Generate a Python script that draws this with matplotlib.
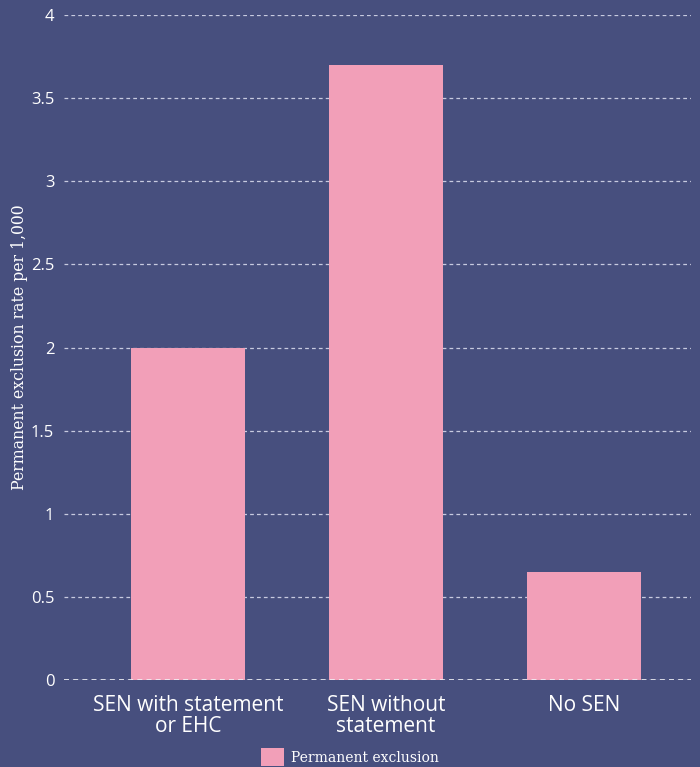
import matplotlib.pyplot as plt
from matplotlib.patches import Patch

categories = ["SEN with statement\nor EHC", "SEN without\nstatement", "No SEN"]
exclusion_rate = [2.0, 3.7, 0.65]
y_ticks = [0, 0.5, 1, 1.5, 2, 2.5, 3, 3.5, 4]
y_tick_labels = ["0", "0.5", "1", "1.5", "2", "2.5", "3", "3.5", "4"]

bg = "#474f7e"
pink = "#f29fb8"

fig = plt.figure(figsize=(7, 7.67), dpi=100, facecolor=bg)
ax = fig.add_axes([64 / 700, 87 / 767, 627 / 700, 665 / 767])
ax.set_facecolor(bg)

x = range(len(categories))
ax.bar(x, exclusion_rate, width=0.576, color=pink, zorder=2)

ax.set_xlim(-0.626, 2.54)
ax.set_ylim(0, 4)
ax.set_yticks(y_ticks)
ax.set_yticklabels(y_tick_labels)
ax.set_xticks(list(x))
ax.set_xticklabels(categories, fontsize=15, family="Open Sans", linespacing=0.98)

ax.tick_params(axis="both", length=0, colors="white")
ax.tick_params(axis="y", labelsize=12, pad=7)
ax.tick_params(axis="x", pad=11)
for lbl in ax.get_yticklabels():
    lbl.set_family("Open Sans")

ax.grid(axis="y", color="#c8cbe0", linestyle=(0, (3, 2.5)), linewidth=0.9, zorder=0)
ax.axhline(0, color="#f0f1f6", linestyle=(0, (3, 2.5)), linewidth=1.2, zorder=3)
for s in ax.spines.values():
    s.set_visible(False)

ax.set_ylabel("Permanent exclusion rate per 1,000", color="white",
              fontsize=11.3, family="DejaVu Serif")
ax.yaxis.set_label_coords(-0.057, 0.5)

# legend sits at the very bottom; its swatch runs off the lower edge
leg = fig.legend(handles=[Patch(facecolor=pink, label="Permanent exclusion")],
                 loc="center", bbox_to_anchor=(0.5, 0.013), frameon=False,
                 borderpad=0, handlelength=1.65, handleheight=1.6, handletextpad=0.45,
                 prop={"family": "DejaVu Serif", "size": 10})
for t in leg.get_texts():
    t.set_color("white")

fig.savefig("out.png", dpi=100, facecolor=bg)
